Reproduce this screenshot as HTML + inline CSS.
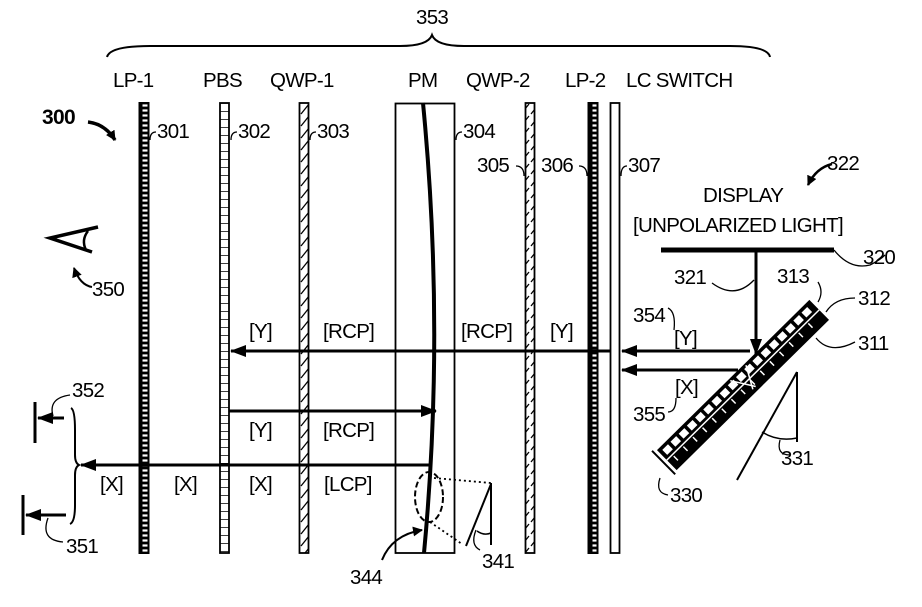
<!DOCTYPE html>
<html><head><meta charset="utf-8"><style>
html,body{margin:0;padding:0;background:#fff;}
svg{display:block;}
text{font-family:"Liberation Sans",sans-serif;font-size:20.5px;letter-spacing:-0.7px;fill:#000;}
</style></head><body>
<svg width="922" height="607" viewBox="0 0 922 607" xmlns="http://www.w3.org/2000/svg">
<defs>
<pattern id="lad" x="0" y="103" width="10" height="5" patternUnits="userSpaceOnUse">
<rect width="10" height="5" fill="#000"/><rect x="2.5" y="1.4" width="5" height="2.2" fill="#fff"/>
</pattern>
<pattern id="pbs" x="0" y="103" width="10" height="8" patternUnits="userSpaceOnUse">
<rect width="10" height="8" fill="#fff"/><line x1="0" y1="0" x2="10" y2="0" stroke="#000" stroke-width="1.5"/>
</pattern>
<pattern id="qwp" x="0" y="103" width="10" height="12" patternUnits="userSpaceOnUse">
<rect width="10" height="12" fill="#fff"/><line x1="1" y1="11" x2="9" y2="1" stroke="#000" stroke-width="1.3"/>
</pattern>
<marker id="ah" markerWidth="10" markerHeight="10" refX="9" refY="5" orient="auto" markerUnits="userSpaceOnUse">
<path d="M0,0 L10,5 L0,10 z" fill="#000"/></marker>
<marker id="ah2" markerWidth="16" markerHeight="12" refX="15" refY="6" orient="auto" markerUnits="userSpaceOnUse">
<path d="M0,0 L16,6 L0,12 z" fill="#000"/></marker>
</defs>

<!-- brace 353 -->
<text x="416" y="24">353</text>
<path d="M107,57 Q110,46 150,46 L400,46 Q428,46 432,35 Q436,46 464,46 L730,46 Q768,46 770,57" fill="none" stroke="#000" stroke-width="2"/>

<!-- column labels -->
<text x="113" y="87">LP-1</text>
<text x="203" y="87">PBS</text>
<text x="270" y="87">QWP-1</text>
<text x="408" y="87">PM</text>
<text x="466" y="87">QWP-2</text>
<text x="565" y="87">LP-2</text>
<text x="626" y="87">LC SWITCH</text>

<!-- plates -->
<rect x="139.5" y="103" width="9" height="450" fill="url(#lad)" stroke="#000" stroke-width="2"/>
<rect x="220" y="103" width="9" height="450" fill="url(#pbs)" stroke="#000" stroke-width="1.8"/>
<rect x="299.5" y="103" width="9" height="450" fill="url(#qwp)" stroke="#000" stroke-width="1.8"/>
<rect x="395.5" y="103.5" width="59" height="449.5" fill="none" stroke="#000" stroke-width="1.8"/>
<path d="M423,103 Q445,330 424,553" fill="none" stroke="#000" stroke-width="4"/>
<rect x="525.5" y="103" width="9" height="450" fill="url(#qwp)" stroke="#000" stroke-width="1.8"/>
<rect x="588.5" y="103" width="9" height="450" fill="url(#lad)" stroke="#000" stroke-width="2"/>
<rect x="610.5" y="103" width="9" height="450" fill="#fff" stroke="#000" stroke-width="1.8"/>

<!-- ref numbers with squiggles -->
<g fill="none" stroke="#000" stroke-width="1.3">
<path d="M150,140 q0,-8 6,-8"/><path d="M231,140 q0,-8 6,-8"/><path d="M310,140 q0,-8 6,-8"/><path d="M456,140 q0,-8 6,-8"/>
<path d="M524,176 q0,-10 -8,-10"/><path d="M587,176 q0,-10 -8,-10"/><path d="M621,176 q0,-10 6,-10"/>
</g>
<text x="157" y="138">301</text>
<text x="238" y="138">302</text>
<text x="317" y="138">303</text>
<text x="463" y="138">304</text>
<text x="477" y="172">305</text>
<text x="541" y="172">306</text>
<text x="628" y="172">307</text>

<!-- 300 -->
<text x="42" y="124" style="font-weight:bold;font-size:21px">300</text>
<path d="M88,122 Q105,124 115,140" fill="none" stroke="#000" stroke-width="3.5" marker-end="url(#ah)"/>
<!-- eye -->
<path d="M98,227 L50,238 L92,252" fill="none" stroke="#000" stroke-width="3.5"/>
<path d="M88,231 Q81,240 86,250" fill="none" stroke="#000" stroke-width="2.5"/>
<path d="M92,287 Q80,285 74,268" fill="none" stroke="#000" stroke-width="2" marker-end="url(#ah)"/>
<text x="92" y="296">350</text>

<!-- rays -->
<g stroke="#000" stroke-width="3" fill="none">
<line x1="610" y1="351" x2="231" y2="351" marker-end="url(#ah2)"/>
<line x1="750" y1="351" x2="622" y2="351" marker-end="url(#ah2)"/>
<line x1="738" y1="370" x2="622" y2="370" marker-end="url(#ah2)"/>
<line x1="229" y1="411" x2="436" y2="411" marker-end="url(#ah2)"/>
<line x1="431" y1="465" x2="81" y2="465" marker-end="url(#ah2)"/>
<line x1="756" y1="250" x2="756" y2="354" marker-end="url(#ah2)"/>
</g>
<text x="249" y="338">[Y]</text>
<text x="323" y="338">[RCP]</text>
<text x="461" y="338">[RCP]</text>
<text x="550" y="338">[Y]</text>
<text x="249" y="437">[Y]</text>
<text x="323" y="437">[RCP]</text>
<text x="100" y="491">[X]</text>
<text x="174" y="491">[X]</text>
<text x="249" y="491">[X]</text>
<text x="324" y="491">[LCP]</text>

<!-- viewer images 351/352 -->
<g stroke="#000" stroke-width="3" fill="none">
<line x1="35" y1="402" x2="35" y2="443"/>
<line x1="64" y1="418" x2="38" y2="418" marker-end="url(#ah2)"/>
<line x1="23" y1="495" x2="23" y2="535"/>
<line x1="66" y1="515" x2="26" y2="515" marker-end="url(#ah2)"/>
</g>
<path d="M71,408 Q75,410 75,430 L75,455 Q75,463 79,465 Q75,467 75,475 L75,505 Q75,522 70,524" fill="none" stroke="#000" stroke-width="2"/>
<path d="M53,416 Q48,398 70,395" fill="none" stroke="#000" stroke-width="1.3"/>
<path d="M48,518 Q40,540 63,542" fill="none" stroke="#000" stroke-width="1.3"/>
<text x="72" y="397">352</text>
<text x="66" y="553">351</text>

<!-- PM detail 341 344 -->
<ellipse cx="429" cy="497" rx="14" ry="25" fill="none" stroke="#000" stroke-width="2" stroke-dasharray="6,3"/>
<g stroke="#000" stroke-width="1.8" stroke-dasharray="2,3"><line x1="434" y1="478" x2="491" y2="483"/><line x1="430" y1="522" x2="462" y2="544"/></g>
<g stroke="#000" stroke-width="2" fill="none">
<line x1="491" y1="483" x2="491" y2="545"/><line x1="491" y1="484" x2="466" y2="546"/>
<path d="M477,531 Q484,536 491,533" stroke-width="1.5"/>
<path d="M476,530 Q470,545 480,550" stroke-width="1.3"/>
</g>
<text x="482" y="568">341</text>
<path d="M382,560 Q392,535 422,530" fill="none" stroke="#000" stroke-width="2" marker-end="url(#ah)"/>
<text x="350" y="584">344</text>

<!-- display -->
<text x="703" y="202">DISPLAY</text>
<text x="633" y="232">[UNPOLARIZED LIGHT]</text>
<line x1="661" y1="250" x2="834" y2="250" stroke="#000" stroke-width="5"/>
<path d="M834,250 Q850,270 870,265 Q880,260 885,255" fill="none" stroke="#000" stroke-width="1.3"/>
<text x="863" y="264">320</text>
<text x="827" y="170">322</text>
<path d="M832,164 Q816,168 808,185" fill="none" stroke="#000" stroke-width="2.5" marker-end="url(#ah)"/>
<text x="674" y="284">321</text>
<path d="M712,283 Q735,300 754,280" fill="none" stroke="#000" stroke-width="1.3"/>
<text x="777" y="283">313</text>
<path d="M818,282 Q824,292 818,302" fill="none" stroke="#000" stroke-width="1.3"/>
<text x="858" y="305">312</text>
<path d="M855,298 Q835,298 826,312" fill="none" stroke="#000" stroke-width="1.3"/>
<text x="858" y="350">311</text>
<path d="M855,342 Q830,355 816,338" fill="none" stroke="#000" stroke-width="1.3"/>
<text x="633" y="322">354</text>
<path d="M668,308 Q676,312 674,330" fill="none" stroke="#000" stroke-width="1.3"/>
<text x="674" y="345">[Y]</text>
<text x="675" y="394">[X]</text>
<path d="M676,398 Q676,412 668,412" fill="none" stroke="#000" stroke-width="1.3"/>
<text x="633" y="421">355</text>

<!-- mirror -->
<g transform="translate(743,385) rotate(-44.6)">
<rect x="-107" y="-14" width="214" height="28" fill="#000"/>
<path d="M-103,-7 H104" stroke="#fff" stroke-width="7" stroke-dasharray="8,3.5"/>
<line x1="-107" y1="0" x2="107" y2="0" stroke="#fff" stroke-width="1.5"/>
<path d="M-100,5 H102" stroke="#fff" stroke-width="6" stroke-dasharray="1.5,12"/>
<line x1="-111" y1="-17" x2="-111" y2="16" stroke="#000" stroke-width="2"/>
<line x1="-6" y1="-12" x2="8" y2="10" stroke="#fff" stroke-width="1.5"/>
<line x1="16" y1="-12" x2="4" y2="10" stroke="#fff" stroke-width="1.5"/>
</g>
<path d="M660,478 Q655,493 668,495" fill="none" stroke="#000" stroke-width="1.3"/>
<text x="670" y="502">330</text>
<g stroke="#000" stroke-width="2" fill="none">
<line x1="737" y1="480" x2="797" y2="372"/><line x1="797" y1="372" x2="797" y2="442"/>
<path d="M762,432 Q778,442 797,438" stroke-width="1.5"/>
<path d="M780,440 Q776,455 790,455" stroke-width="1.3"/>
</g>
<text x="781" y="465">331</text>
</svg>
</body></html>
